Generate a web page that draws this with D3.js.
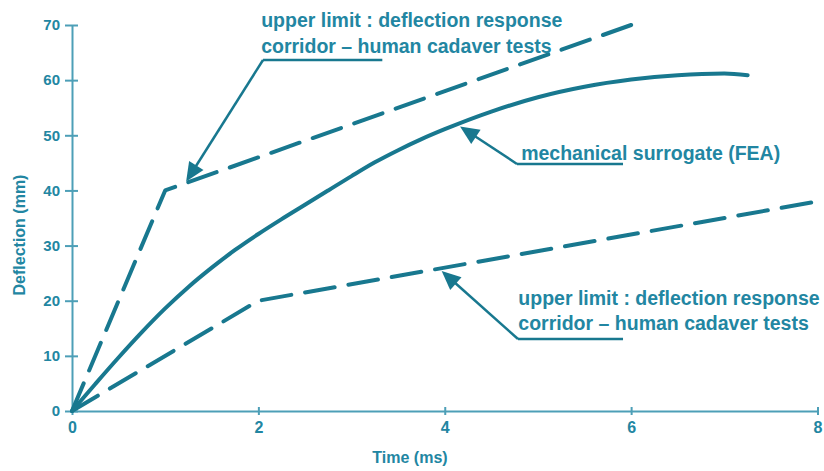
<!DOCTYPE html>
<html>
<head>
<meta charset="utf-8">
<script src="https://cdn.jsdelivr.net/npm/d3@7"></script>
<style>
  html, body { margin: 0; padding: 0; background: #ffffff; }
  svg { display: block; }
  text { font-family: "Liberation Sans", Arial, Helvetica, sans-serif; font-weight: bold; }
</style>
</head>
<body>
<svg id="chart" width="824" height="471"></svg>
<script>
// ---- data ----
const xTicks = [0, 2, 4, 6, 8];
const yTicks = [0, 10, 20, 30, 40, 50, 60, 70];

// upper corridor limit (dashed)
const upperTime = [0, 1, 6];
const upperDefl = [0, 40, 70];

// lower corridor limit (dashed)
const lowerTime = [0, 2, 8];
const lowerDefl = [0, 20, 38];

// mechanical surrogate (FEA), solid
const feaTime = [0, 0.25, 0.5, 0.75, 1.0, 1.25, 1.5, 1.75, 2.0, 2.25, 2.5, 2.75, 3.0, 3.25, 3.5, 3.75, 4.0, 4.5, 5.0, 5.5, 6.0, 6.5, 7.0, 7.25];
const feaDefl = [0, 4.9, 9.7, 14.3, 18.6, 22.5, 26.0, 29.2, 32.1, 34.8, 37.4, 40.0, 42.6, 45.1, 47.3, 49.3, 51.1, 54.3, 56.9, 58.8, 60.1, 60.9, 61.2, 60.9];

// annotations text
const annUpperLines = ["upper limit : deflection response", "corridor \u2013 human cadaver tests"];
const annFeaLines = ["mechanical surrogate (FEA)"];
const annLowerLines = ["upper limit : deflection response", "corridor \u2013 human cadaver tests"];

// ---- layout ----
const W = 824, H = 471;
const x = d3.scaleLinear().domain([0, 8]).range([72, 817.5]);
const y = d3.scaleLinear().domain([0, 70]).range([411, 25]);

const lineCol = "#18788f";
const textCol = "#2286a2";
const axisCol = "#4d9fb7";

const svg = d3.select("#chart");
svg.append("rect").attr("width", W).attr("height", H).attr("fill", "#fff");

// axes
const xAxis = svg.append("g").attr("transform", `translate(0,${y(0)})`)
  .call(d3.axisBottom(x).tickValues(xTicks).tickSize(4).tickSizeOuter(0).tickPadding(7).tickFormat(d3.format("d")));
xAxis.selectAll(".tick line").attr("y1", -4).attr("y2", 4);
const yAxis = svg.append("g").attr("transform", `translate(${x(0)},0)`)
  .call(d3.axisLeft(y).tickValues(yTicks).tickSize(7).tickSizeOuter(0).tickPadding(5).tickFormat(d3.format("d")));
yAxis.selectAll(".tick line").attr("x1", -7).attr("x2", 6);

[xAxis, yAxis].forEach(g => {
  g.select(".domain").attr("stroke", axisCol).attr("stroke-width", 2);
  g.selectAll(".tick line").attr("stroke", axisCol).attr("stroke-width", 2);
  g.selectAll(".tick text").attr("fill", textCol).attr("font-size", 15)
    .attr("font-family", "'Liberation Sans', Arial, sans-serif").attr("font-weight", "bold");
});
xAxis.selectAll(".tick text").attr("font-size", 16);

// axis titles
svg.append("text").attr("x", 410).attr("y", 463).attr("text-anchor", "middle")
  .attr("fill", textCol).attr("font-size", 16).text("Time (ms)");
svg.append("text").attr("transform", "translate(25,235) rotate(-90)").attr("text-anchor", "middle")
  .attr("fill", textCol).attr("font-size", 16).text("Deflection (mm)");

// series
const line = d3.line().x(d => x(d[0])).y(d => y(d[1]));
const zip = (a, b) => a.map((v, i) => [v, b[i]]);

svg.append("path").datum(zip(upperTime, upperDefl)).attr("d", line)
  .attr("fill", "none").attr("stroke", lineCol).attr("stroke-width", 4)
  .attr("stroke-dasharray", "30,14").attr("stroke-linecap", "round").attr("stroke-linejoin", "round");
svg.append("path").datum(zip(lowerTime, lowerDefl)).attr("d", line)
  .attr("fill", "none").attr("stroke", lineCol).attr("stroke-width", 4)
  .attr("stroke-dasharray", "30,14").attr("stroke-linecap", "round").attr("stroke-linejoin", "round");
svg.append("path").datum(zip(feaTime, feaDefl)).attr("d", d3.line().x(d => x(d[0])).y(d => y(d[1])).curve(d3.curveMonotoneX))
  .attr("fill", "none").attr("stroke", lineCol).attr("stroke-width", 4).attr("stroke-linecap", "round");

// annotations
function annotate(lines, tx, tyFirst, lineGap, ulX0, ulX1, ulY, tip) {
  const g = svg.append("g");
  lines.forEach((t, i) => {
    g.append("text").attr("x", x(tx)).attr("y", y(tyFirst) + i * lineGap)
      .attr("fill", textCol).attr("font-size", 19.5).text(t);
  });
  const ex = x(ulX0), ey = y(ulY);
  g.append("line").attr("x1", ex).attr("y1", ey).attr("x2", x(ulX1)).attr("y2", ey)
    .attr("stroke", lineCol).attr("stroke-width", 2.5);
  const px = x(tip[0]), py = y(tip[1]);
  const dx = px - ex, dy = py - ey, L = Math.hypot(dx, dy);
  const ux = dx / L, uy = dy / L;
  const hl = 19, hw = 8.5;
  const bx = px - ux * hl, by = py - uy * hl;
  g.append("line").attr("x1", ex).attr("y1", ey).attr("x2", bx + ux * 2).attr("y2", by + uy * 2)
    .attr("stroke", lineCol).attr("stroke-width", 2.5);
  g.append("path").attr("d",
    `M${px},${py}L${bx - uy * hw},${by + ux * hw}L${bx + uy * hw},${by - ux * hw}Z`)
    .attr("fill", lineCol);
}
annotate(annUpperLines, 2.03, 69.7, 26, 2.05, 3.33, 63.66, [1.225, 41.6]);
annotate(annFeaLines, 4.82, 45.5, 0, 4.775, 5.913, 44.8, [4.164, 51.6]);
annotate(annLowerLines, 4.79, 19.2, 25, 4.786, 5.913, 13.06, [3.967, 25.4]);
</script>
</body>
</html>
